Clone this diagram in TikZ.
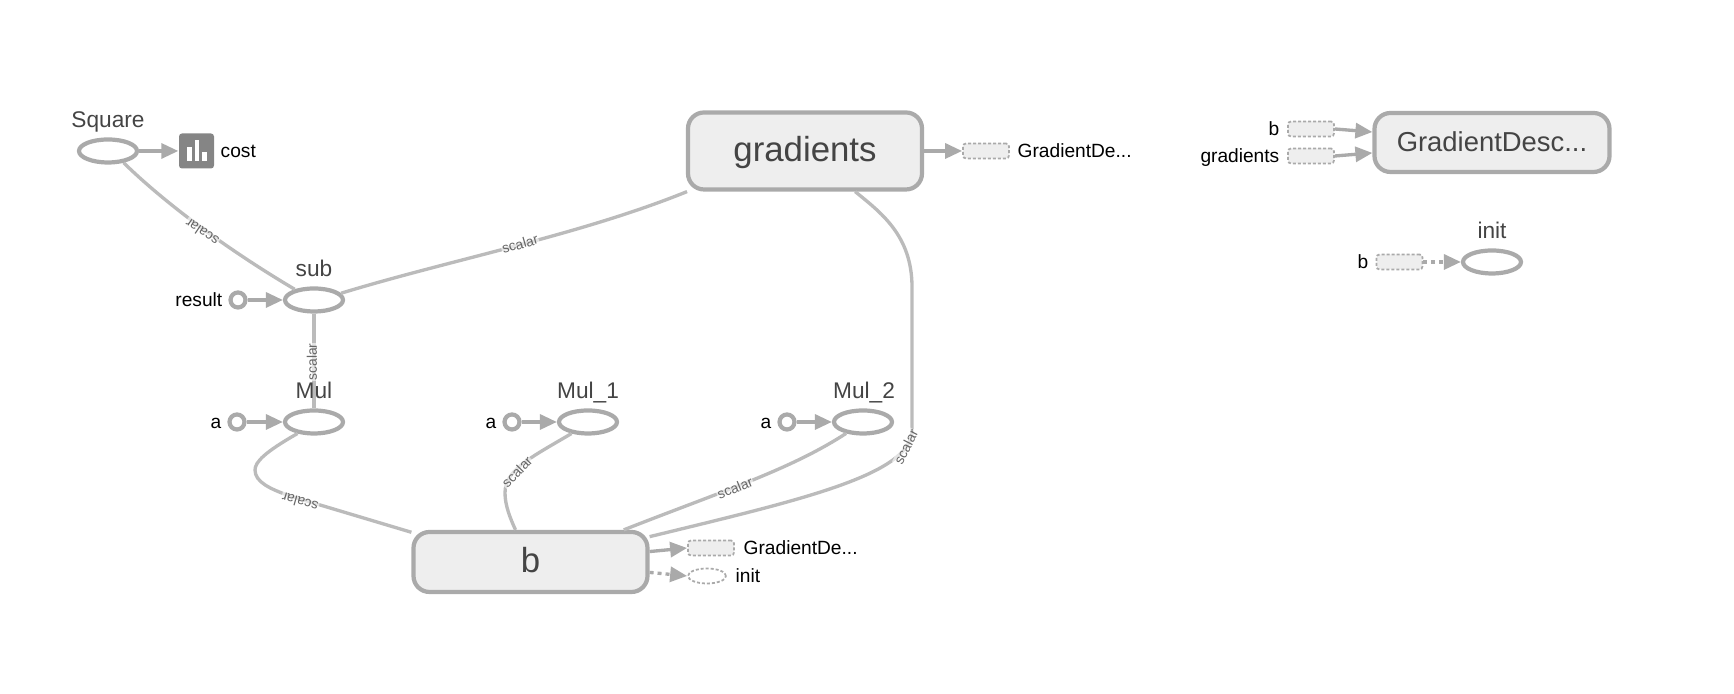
\documentclass[tikz,border=0pt]{standalone}
\usepackage{fontspec}
\setmainfont{Liberation Sans}
\usetikzlibrary{arrows.meta}
\usetikzlibrary{shapes.geometric}
\definecolor{edgegray}{HTML}{BBBBBB}
\definecolor{nodegray}{HTML}{AAAAAA}
\definecolor{boxfill}{HTML}{EEEEEE}
\definecolor{titletext}{HTML}{444444}

\begin{document}
\begin{tikzpicture}[
  opnode/.style={draw=nodegray, line width=1.2pt, ellipse, minimum width=0.58cm, minimum height=0.23cm, inner sep=0pt},
  constnode/.style={draw=nodegray, line width=1.2pt, circle, minimum size=0.15cm, inner sep=0pt},
  groupbox/.style={draw=nodegray, line width=1.2pt, fill=boxfill, rounded corners=0.16cm, inner sep=0pt, text=titletext},
  stubbox/.style={draw=nodegray, line width=0.5pt, dash pattern=on 0.03cm off 0.02cm, fill=boxfill, rounded corners=0.03cm, minimum width=0.46cm, minimum height=0.15cm, inner sep=0pt},
  stubop/.style={draw=nodegray, line width=0.5pt, dash pattern=on 0.03cm off 0.02cm, ellipse, minimum width=0.38cm, minimum height=0.15cm, inner sep=0pt},
  optitle/.style={font=\fontsize{6.45}{7}\selectfont, text=titletext, inner sep=0pt, text height=0.16cm, text depth=0pt},
  smalltext/.style={font=\fontsize{5.45}{6}\selectfont, inner sep=0pt, text height=0.14cm, text depth=0pt},
  scalartext/.style={font=\fontsize{3.95}{4}\selectfont, text=black!60, fill=white, fill opacity=0.6, text opacity=1, inner sep=0.2pt},
  flow/.style={draw=edgegray, line width=0.95pt},
  dataarrow/.style={draw=nodegray, line width=0.95pt, -{Triangle[length=1.7mm, width=1.5mm]}},
  ctrlarrow/.style={dataarrow, dash pattern=on 0.04cm off 0.04cm},
]
\useasboundingbox (0,0) rectangle (17.34,6.94);

% Operation nodes
\node[opnode] (square) at (1.08, 5.43) {};
\node[opnode] (sub) at (3.14, 3.94) {};
\node[opnode] (mul) at (3.14, 2.72) {};
\node[opnode] (mulone) at (5.88, 2.72) {};
\node[opnode] (multwo) at (8.63, 2.72) {};
\node[opnode] (initop) at (14.92, 4.32) {};

% Constants
\node[constnode] (result) at (2.38, 3.94) {};
\node[constnode] (amul) at (2.37, 2.72) {};
\node[constnode] (amulone) at (5.12, 2.72) {};
\node[constnode] (amultwo) at (7.87, 2.72) {};

% Groups
\node[groupbox, minimum width=2.34cm, minimum height=0.77cm, font=\fontsize{9.9}{11}\selectfont, text height=0.214cm, text depth=0pt] (gradients) at (8.05, 5.43) {gradients};
\node[groupbox, minimum width=2.34cm, minimum height=0.60cm, font=\fontsize{9.9}{11}\selectfont, text height=0.22cm, text depth=0pt] (bvar) at (5.305, 1.32) {b};
\node[groupbox, minimum width=2.35cm, minimum height=0.59cm, font=\fontsize{7.8}{9}\selectfont, text height=0.184cm, text depth=0pt] (descent) at (14.92, 5.515) {GradientDesc...};

% Summary icon
\node[fill=black!48, rounded corners=0.03cm, minimum size=0.35cm, inner sep=0pt] (costicon) at (1.965, 5.43) {};
\fill[white] (1.867, 5.333) rectangle (1.92, 5.473);
\fill[white] (1.947, 5.333) rectangle (1.993, 5.54);
\fill[white] (2.02, 5.333) rectangle (2.067, 5.417);

% Stubs
\node[stubbox] (gradstub) at (9.86, 5.43) {};
\node[stubbox] (bstub) at (7.11, 1.46) {};
\node[stubop] (initstub) at (7.07, 1.18) {};
\node[stubbox] (descentb) at (13.11, 5.65) {};
\node[stubbox] (descentgrad) at (13.11, 5.38) {};
\node[stubbox] (initb) at (13.995, 4.32) {};

% Edges
\draw[flow] (square.-37) .. controls (1.70, 4.86) and (2.35, 4.40) .. (sub.151);
\draw[flow] (sub.14) .. controls (4.50, 4.34) and (5.80, 4.59) .. (gradients.199.7);
\draw[flow] (sub.south) -- (mul.north);
\draw[flow] (mul.215) .. controls (2.65, 2.42) and (2.55, 2.32) .. (2.55, 2.24) .. controls (2.55, 2.12) and (2.70, 2.05) .. (2.90, 1.98) -- (bvar.166);
\draw[flow] (mulone.215) .. controls (5.30, 2.36) and (5.05, 2.24) .. (5.05, 2.01) .. controls (5.05, 1.89) and (5.10, 1.76) .. (bvar.115);
\draw[flow] (multwo.214) .. controls (7.90, 2.24) and (7.20, 2.02) .. (bvar.19);
\draw[flow] (gradients.-39.4) .. controls (8.80, 4.82) and (9.12, 4.59) .. (9.12, 4.07) -- (9.12, 2.64) .. controls (9.12, 2.19) and (8.00, 1.94) .. (bvar.12);

% Arrows
\draw[dataarrow] (square) -- (costicon);
\draw[dataarrow] (result) -- (sub);
\draw[dataarrow] (amul) -- (mul);
\draw[dataarrow] (amulone) -- (mulone);
\draw[dataarrow] (amultwo) -- (multwo);
\draw[dataarrow] (gradients) -- (gradstub);
\draw[dataarrow] (bvar.5) -- (bstub.west);
\draw[ctrlarrow] (bvar.-5) -- (initstub.west);
\draw[dataarrow] (descentb.east) -- (descent.175);
\draw[dataarrow] (descentgrad.east) -- (descent.185);
\draw[ctrlarrow] (initb) -- (initop);

% Titles
\node[optitle] (squaretitle) at (1.08, 5.74) {Square};
\node[optitle] (subtitle) at (3.14, 4.25) {sub};
\node[optitle] (multitle) at (3.14, 3.03) {Mul};
\node[optitle] (mulonetitle) at (5.88, 3.03) {Mul\_1};
\node[optitle] (multwotitle) at (8.64, 3.03) {Mul\_2};
\node[optitle] (inittitle) at (14.92, 4.63) {init};

% Side labels
\node[smalltext, anchor=west] (costlabel) at (2.20, 5.43) {cost};
\node[smalltext, anchor=east] (resultlabel) at (2.23, 3.94) {result};
\node[smalltext] (amullabel) at (2.16, 2.72) {a};
\node[smalltext] (amulonelabel) at (4.91, 2.72) {a};
\node[smalltext] (amultwolabel) at (7.66, 2.72) {a};
\node[smalltext, anchor=west] (gradstublabel) at (10.17, 5.43) {GradientDe...};
\node[smalltext, anchor=west] (bstublabel) at (7.43, 1.46) {GradientDe...};
\node[smalltext, anchor=west] (initstublabel) at (7.35, 1.18) {init};
\node[smalltext, anchor=east] (descentblabel) at (12.80, 5.65) {b};
\node[smalltext, anchor=east] (descentgradlabel) at (12.80, 5.38) {gradients};
\node[smalltext, anchor=east] (initblabel) at (13.69, 4.32) {b};

% Edge labels
\node[scalartext, rotate=146] (scalarsquare) at (2.02, 4.62) {scalar};
\node[scalartext, rotate=16] (scalargrad) at (5.20, 4.50) {scalar};
\node[scalartext, rotate=90] (scalarsub) at (3.12, 3.32) {scalar};
\node[scalartext, rotate=164] (scalarmul) at (3.00, 1.92) {scalar};
\node[scalartext, rotate=46] (scalarmulone) at (5.17, 2.22) {scalar};
\node[scalartext, rotate=22] (scalarmultwo) at (7.35, 2.06) {scalar};
\node[scalartext, rotate=63] (scalarb) at (9.06, 2.47) {scalar};

\end{tikzpicture}
\end{document}
